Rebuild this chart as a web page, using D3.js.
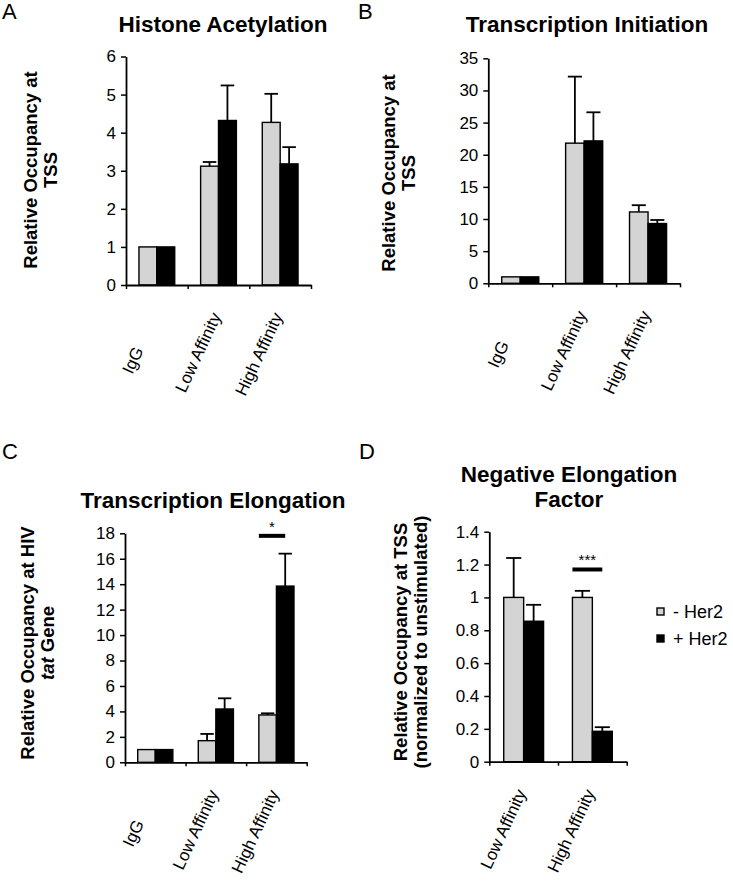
<!DOCTYPE html>
<html><head><meta charset="utf-8">
<script src="https://cdn.jsdelivr.net/npm/d3@7"></script>
<style>
body{margin:0;background:#fff;}
svg{display:block;font-family:"Liberation Sans",Arial,Helvetica,sans-serif;}
</style></head><body>
<svg id="chart" width="733" height="883"></svg>
<script>
// ---------- data ----------
const series = ["- Her2", "+ Her2"];
const seriesColors = ["#d4d4d4", "#000000"];

const categoriesA = ["IgG        ", "Low Affinity", "High Affinity"];
const minusA = [1, 3.12, 4.27];
const minusErrA = [0, 0.11, 0.75];
const plusA = [1, 4.32, 3.18];
const plusErrA = [0, 0.92, 0.44];
const ticksA = [0, 1, 2, 3, 4, 5, 6];
const tickLabelsA = ["0", "1", "2", "3", "4", "5", "6"];

const categoriesB = ["IgG       ", "Low Affinity", "High Affinity"];
const minusB = [1, 21.8, 11.1];
const minusErrB = [0, 10.35, 1.05];
const plusB = [1, 22.15, 9.3];
const plusErrB = [0, 4.45, 0.55];
const ticksB = [0, 5, 10, 15, 20, 25, 30, 35];
const tickLabelsB = ["0", "5", "10", "15", "20", "25", "30", "35"];

const categoriesC = ["IgG       ", "Low Affinity", "High Affinity"];
const minusC = [1, 1.7, 3.72];
const minusErrC = [0, 0.53, 0.13];
const plusC = [1, 4.19, 13.85];
const plusErrC = [0, 0.84, 2.55];
const ticksC = [0, 2, 4, 6, 8, 10, 12, 14, 16, 18];
const tickLabelsC = ["0", "2", "4", "6", "8", "10", "12", "14", "16", "18"];
const sigC = {category: "High Affinity", value: 17.8, label: "*"};

const categoriesD = ["Low Affinity", "High Affinity"];
const minusD = [1.0, 1.0];
const minusErrD = [0.24, 0.04];
const plusD = [0.855, 0.185];
const plusErrD = [0.1, 0.025];
const ticksD = [0, 0.2, 0.4, 0.6, 0.8, 1.0, 1.2, 1.4];
const tickLabelsD = ["0", "0.2", "0.4", "0.6", "0.8", "1", "1.2", "1.4"];
const sigD = {category: "High Affinity", value: 1.17, label: "***"};

// ---------- layout ----------
const panels = [
  {letter:"A", lx:2, ly:19, cats:categoriesA, vals:[minusA, plusA], errs:[minusErrA, plusErrA],
   ticks:ticksA, tickLabels:tickLabelsA, max:6,
   left:126, right:311, top:56.5, bottom:285,
   title:["Histone Acetylation"], tx:223, ty:32,
   ylab:[["Relative Occupancy at"],["TSS"]], yx:37, ycy:170, sig:null},
  {letter:"B", lx:358, ly:19, cats:categoriesB, vals:[minusB, plusB], errs:[minusErrB, plusErrB],
   ticks:ticksB, tickLabels:tickLabelsB, max:35,
   left:488.3, right:680, top:58.3, bottom:283.3,
   title:["Transcription Initiation"], tx:587, ty:32,
   ylab:[["Relative Occupancy at"],["TSS"]], yx:395, ycy:173, sig:null},
  {letter:"C", lx:2, ly:459, cats:categoriesC, vals:[minusC, plusC], errs:[minusErrC, plusErrC],
   ticks:ticksC, tickLabels:tickLabelsC, max:18,
   left:125, right:306.7, top:533.3, bottom:762.3,
   title:["Transcription Elongation"], tx:213, ty:508,
   ylab:[["Relative Occupancy at HIV"],[{t:"tat",i:true},{t:" Gene"}]], yx:34, ycy:643, sig:sigC},
  {letter:"D", lx:359, ly:459, cats:categoriesD, vals:[minusD, plusD], errs:[minusErrD, plusErrD],
   ticks:ticksD, tickLabels:tickLabelsD, max:1.4,
   left:489.3, right:626.7, top:531.7, bottom:761.7,
   title:["Negative Elongation","Factor"], tx:569, ty:481.5,
   ylab:[["Relative Occupancy at TSS"],["(normalized to unstimulated)"]], yx:407, ycy:642, sig:sigD, legend:true}
];

const svg = d3.select("#chart");

panels.forEach(p => {
  const g = svg.append("g");
  const y = d3.scaleLinear().domain([0, p.max]).range([p.bottom, p.top]);
  const n = p.cats.length;
  const x = d3.scaleBand().domain(p.cats).range([p.left, p.right])
    .paddingInner(0.42).paddingOuter(0.21);
  const xs = d3.scaleBand().domain(series).range([0, x.bandwidth()]);
  const bw = xs.bandwidth();
  const xb = d3.scaleLinear().domain([0, n]).range([p.left, p.right]);

  // panel letter
  g.append("text").attr("x", p.lx).attr("y", p.ly).attr("font-size", 22).text(p.letter);

  // title
  const t = g.append("text").attr("text-anchor","middle").attr("font-weight","bold")
    .attr("font-size", 22.5).attr("x", p.tx).attr("y", p.ty);
  p.title.forEach((line, i) => t.append("tspan").attr("x", p.tx).attr("dy", i === 0 ? 0 : 25.8).text(line));

  // y label
  const yl = g.append("text").attr("transform", `translate(${p.yx},${p.ycy}) rotate(-90)`)
    .attr("text-anchor","middle").attr("font-weight","bold").attr("font-size", 18.5);
  p.ylab.forEach((line, i) => {
    line.forEach((part, j) => {
      const s = yl.append("tspan").text(typeof part === "string" ? part : part.t);
      if (j === 0) s.attr("x", 0).attr("y", i * 19.5);
      if (typeof part === "object" && part.i) s.attr("font-style","italic");
    });
  });

  // bars
  series.forEach((s, si) => {
    g.append("g").selectAll("rect").data(p.cats).join("rect")
      .attr("x", c => x(c) + xs(s))
      .attr("y", (c, i) => y(p.vals[si][i]))
      .attr("width", bw)
      .attr("height", (c, i) => y(0) - y(p.vals[si][i]))
      .attr("fill", seriesColors[si])
      .attr("stroke", "#000").attr("stroke-width", 1.4);
  });

  // error bars
  series.forEach((s, si) => {
    p.cats.forEach((c, i) => {
      const e = p.errs[si][i];
      if (!e) return;
      const v = p.vals[si][i];
      const cx = x(c) + xs(s) + bw / 2;
      g.append("line").attr("x1", cx).attr("x2", cx).attr("y1", y(v)).attr("y2", y(v + e))
        .attr("stroke", "#000").attr("stroke-width", 1.8);
      g.append("line").attr("x1", cx - bw * 0.38).attr("x2", cx + bw * 0.38)
        .attr("y1", y(v + e)).attr("y2", y(v + e))
        .attr("stroke", "#000").attr("stroke-width", 1.8);
    });
  });

  // y axis
  const ya = g.append("g").attr("transform", `translate(${p.left},0)`)
    .call(d3.axisLeft(y).tickValues(p.ticks).tickSize(5).tickSizeOuter(0).tickPadding(5)
      .tickFormat((d, i) => p.tickLabels[i]));
  ya.attr("font-size", null).attr("font-family", null);
  ya.select(".domain").attr("stroke-width", 1.8);
  ya.selectAll(".tick line").attr("stroke-width", 1.5);
  ya.selectAll(".tick text").attr("font-size", 17).attr("fill", "#000");

  // x axis
  const xa = g.append("g").attr("transform", `translate(0,${p.bottom})`)
    .call(d3.axisBottom(xb).tickValues(d3.range(n + 1)).tickSize(4).tickSizeOuter(0).tickFormat(""));
  xa.select(".domain").attr("stroke-width", 1.8);
  xa.selectAll(".tick line").attr("stroke-width", 1.5);

  // category labels
  g.append("g").selectAll("text").data(p.cats).join("text")
    .attr("transform", c => `translate(${x(c) + x.bandwidth() / 2 + 3},${p.bottom + 31}) rotate(-65)`)
    .attr("text-anchor", "end").attr("font-size", 17)
    .attr("xml:space", "preserve").style("white-space", "pre")
    .text(c => c);

  // significance
  if (p.sig) {
    const x0 = x(p.sig.category) + xs(series[0]);
    const x1 = x(p.sig.category) + xs(series[1]) + bw * 0.5;
    g.append("line").attr("x1", x0).attr("x2", x1).attr("y1", y(p.sig.value)).attr("y2", y(p.sig.value))
      .attr("stroke", "#000").attr("stroke-width", 4);
    g.append("text").attr("x", (x0 + x1) / 2).attr("y", y(p.sig.value) - 4)
      .attr("text-anchor", "middle").attr("font-size", 15).text(p.sig.label);
  }

  // legend
  if (p.legend) {
    const lg = g.append("g").selectAll("g").data(series).join("g")
      .attr("transform", (s, i) => `translate(657,${608 + i * 27})`);
    lg.append("rect").attr("width", 7).attr("height", 7)
      .attr("fill", (s, i) => seriesColors[i]).attr("stroke", "#000").attr("stroke-width", 1.4);
    lg.append("text").attr("x", 16).attr("y", 9.5).attr("font-size", 18).text(s => s);
  }
});
</script>
</body></html>
